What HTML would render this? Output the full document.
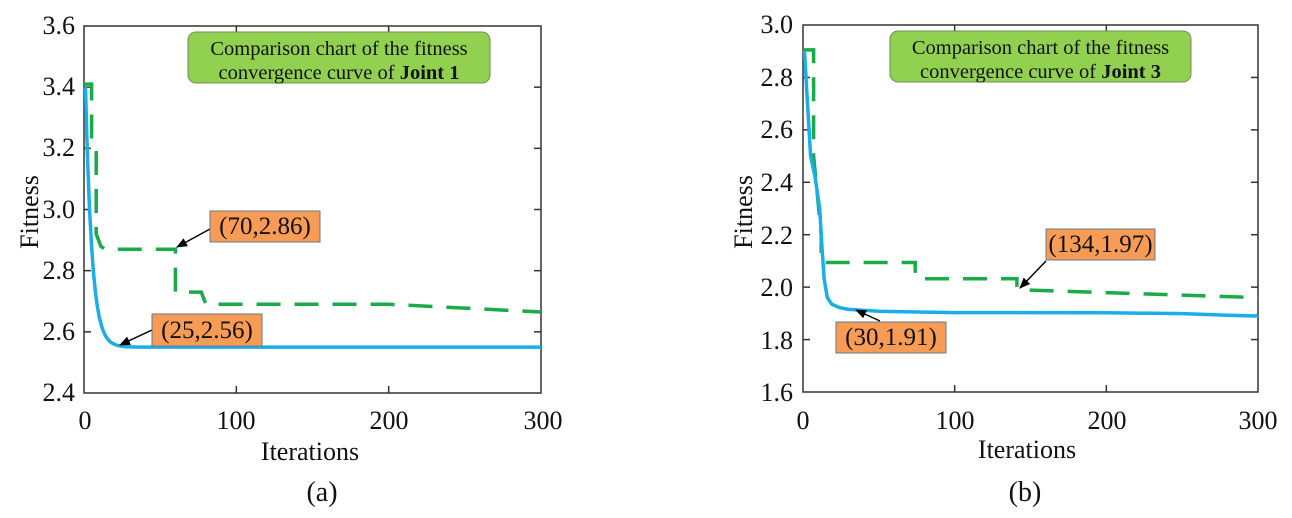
<!DOCTYPE html>
<html><head><meta charset="utf-8"><style>
html,body{margin:0;padding:0;background:#fff}
svg{display:block}
text{font-family:"Liberation Serif",serif;fill:#111}
</style></head><body>
<svg id="s" width="1292" height="518" xmlns="http://www.w3.org/2000/svg">
<defs><marker id="ah" markerWidth="11" markerHeight="9" refX="10" refY="4.5" orient="auto" markerUnits="userSpaceOnUse"><path d="M0,0 L11,4.5 L0,9 z" fill="#000"/></marker></defs>
<g id="L"></g><g id="R"></g>
<g font-size="26" text-anchor="end">
<text x="75" y="34">3.6</text><text x="75" y="95">3.4</text><text x="75" y="156">3.2</text><text x="75" y="218">3.0</text><text x="75" y="279">2.8</text><text x="75" y="340">2.6</text><text x="75" y="401">2.4</text>
</g>
<g font-size="26" text-anchor="middle">
<text x="85" y="429">0</text><text x="236" y="429">100</text><text x="389" y="429">200</text><text x="543" y="429">300</text>
<text x="310" y="460">Iterations</text><text x="322" y="501" font-size="28">(a)</text>
</g>
<text font-size="26" text-anchor="middle" transform="translate(38,212) rotate(-90)">Fitness</text>
<g font-size="26" text-anchor="end">
<text x="793" y="33">3.0</text><text x="793" y="86">2.8</text><text x="793" y="138">2.6</text><text x="793" y="191">2.4</text><text x="793" y="244">2.2</text><text x="793" y="296">2.0</text><text x="793" y="349">1.8</text><text x="793" y="401">1.6</text>
</g>
<g font-size="26" text-anchor="middle">
<text x="803" y="429">0</text><text x="955" y="429">100</text><text x="1107" y="429">200</text><text x="1258" y="429">300</text>
<text x="1027" y="458">Iterations</text><text x="1025" y="501" font-size="28">(b)</text>
</g>
<text font-size="26" text-anchor="middle" transform="translate(752,212) rotate(-90)">Fitness</text>
</svg>
<script>
const NS="http://www.w3.org/2000/svg";
function el(p,t,a){const e=document.createElementNS(NS,t);for(const k in a)e.setAttribute(k,a[k]);p.appendChild(e);return e;}
function txt(p,x,y,s,a){const e=el(p,"text",Object.assign({x:x,y:y},a||{}));e.innerHTML=s;return e;}
function panel(g,ax,vmin,vmax,ticks,blue,green,box,boxTxt,anns){
  const [x0,x1,y0,y1]=ax;
  const X=i=>x0+i/300*(x1-x0), Y=v=>y1-(v-vmin)/(vmax-vmin)*(y1-y0);
  el(g,"rect",{x:x0,y:y0,width:x1-x0,height:y1-y0,fill:"none",stroke:"#333","stroke-width":1.5});
  for(const t of ticks){const y=Y(t);el(g,"line",{x1:x0,x2:x0+7,y1:y,y2:y,stroke:"#333","stroke-width":1.5});el(g,"line",{x1:x1,x2:x1-7,y1:y,y2:y,stroke:"#333","stroke-width":1.5});}
  for(const i of [100,200]){const x=X(i);el(g,"line",{x1:x,x2:x,y1:y1,y2:y1-7,stroke:"#333","stroke-width":1.5});el(g,"line",{x1:x,x2:x,y1:y0,y2:y0+7,stroke:"#333","stroke-width":1.5});}
  const pd=pts=>pts.map((p,k)=>(k?"L":"M")+X(p[0]).toFixed(1)+","+Y(p[1]).toFixed(1)).join(" ");
  el(g,"path",{d:pd(green),fill:"none",stroke:"#1aaa4a","stroke-width":3.5,"stroke-dasharray":"24,14"});
  el(g,"path",{d:pd(blue),fill:"none",stroke:"#19aee8","stroke-width":3.5});
  el(g,"rect",{x:box[0],y:box[1],width:box[2]-box[0],height:box[3]-box[1],rx:8,fill:"#92d050",stroke:"#6f8f5a","stroke-width":1});
  const cx=(box[0]+box[2])/2;
  txt(g,cx,box[1]+23,"Comparison chart of the fitness",{"font-size":20.5,"text-anchor":"middle"});
  txt(g,cx,box[1]+47,boxTxt,{"font-size":20.5,"text-anchor":"middle"});
  for(const a of anns){
    el(g,"line",{x1:a.ax1,y1:a.ay1,x2:a.ax2,y2:a.ay2,stroke:"#000","stroke-width":1.5,"marker-end":"url(#ah)"});
    el(g,"rect",{x:a.b[0],y:a.b[1],width:a.b[2]-a.b[0],height:a.b[3]-a.b[1],fill:"#f79b55",stroke:"#6a7a8a","stroke-width":1});
    txt(g,(a.b[0]+a.b[2])/2,a.b[3]-8,a.t,{"font-size":25,"text-anchor":"middle"});
  }
}
let bl=[];for(let i=1;i<=300;i+=0.5){bl.push([i,2.55+0.85*Math.exp(-(i-1)/4.2)]);}
let gl=[[0,3.41],[5,3.41],[5,3.22],[8,3.2],[8,2.92],[11,2.88],[14,2.87],[60,2.87],[60,2.73],[77,2.73],[80,2.69],[200,2.69],[300,2.665]];
panel(document.getElementById("L"),[84,541,26,393],2.4,3.6,[2.6,2.8,3.0,3.2,3.4],bl,gl,[188,32,490,83],"convergence curve of <tspan font-weight='bold'>Joint 1</tspan>",
 [{ax1:210,ay1:229,ax2:177,ay2:247,b:[210,211,320,242],t:"(70,2.86)"},{ax1:152,ay1:330,ax2:120,ay2:345,b:[152,314,262,346],t:"(25,2.56)"}]);
let br=[[1,2.9],[3,2.7],[5,2.5],[8,2.42],[11,2.3],[12.5,2.15],[14,2.03],[16,1.96],[19,1.935],[24,1.922],[30,1.915],[50,1.908],[100,1.903],[200,1.902],[250,1.899],[280,1.893],[298,1.89],[300,1.893]];
let gr=[[0,2.905],[7,2.905],[7,2.5],[12,2.2],[12,2.094],[74,2.094],[74,2.04],[77,2.032],[141,2.032],[141,2.0],[143,1.99],[300,1.96]];
panel(document.getElementById("R"),[803,1258,25,392],1.6,3.0,[1.8,2.0,2.2,2.4,2.6,2.8],br,gr,[890,31,1191,82],"convergence curve of <tspan font-weight='bold'>Joint 3</tspan>",
 [{ax1:1046,ay1:261,ax2:1020,ay2:288,b:[1046,229,1155,260],t:"(134,1.97)"},{ax1:880,ay1:321,ax2:856,ay2:310,b:[836,322,946,353],t:"(30,1.91)"}]);
</script>
</body></html>
